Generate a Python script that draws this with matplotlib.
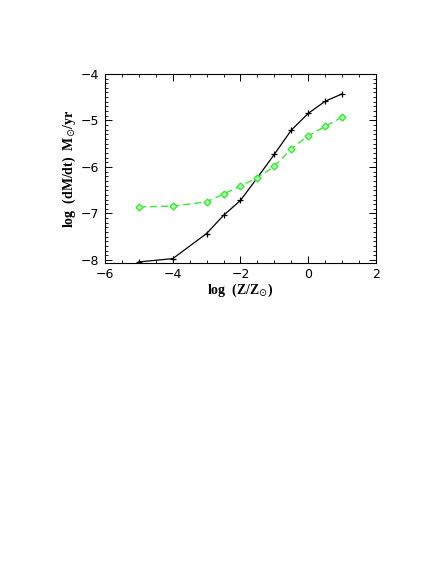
import numpy as np
import matplotlib
matplotlib.use("Agg")
import matplotlib.pyplot as plt
from matplotlib.ticker import MultipleLocator

# log metallicity grid and mass-loss rates
log_z = [-5, -4, -3, -2.5, -2, -1.5, -1, -0.5, 0, 0.5, 1]
mdot_black = [-8.04, -7.97, -7.43, -7.04, -6.72, -6.23, -5.73, -5.21, -4.85, -4.59, -4.43]
mdot_green = [-6.86, -6.84, -6.75, -6.58, -6.41, -6.23, -5.99, -5.61, -5.33, -5.13, -4.93]

fig = plt.figure(figsize=(4.36, 5.64), dpi=100)
ax = fig.add_axes([0.241, 0.534, 0.621, 0.335])

ax.plot(log_z, mdot_black, color='black', lw=0.9, marker='+', ms=5, mew=0.9)
ax.plot(log_z, mdot_green, color='#33ee33', lw=1.0, ls=(0, (5, 3)),
        marker='D', ms=3.5, mfc='#bbffbb', mec='#33ee33', mew=1.0)

ax.set_xlim(-6, 2)
ax.set_ylim(-8.06, -4)
ax.xaxis.set_major_locator(MultipleLocator(2))
ax.xaxis.set_minor_locator(MultipleLocator(0.5))
ax.yaxis.set_major_locator(MultipleLocator(1))
ax.yaxis.set_minor_locator(MultipleLocator(0.1))
ax.tick_params(which='both', direction='in', top=True, right=True, labelsize=9)
ax.tick_params(which='major', length=5, width=0.7, pad=4)
ax.tick_params(which='minor', length=2.5, width=0.6)
for s in ax.spines.values():
    s.set_linewidth(0.8)

for lab in ax.get_xticklabels() + ax.get_yticklabels():
    lab.set_family('DejaVu Sans')

ax.set_xlabel(r'log  (Z/Z$_{\odot}$)', family='Liberation Serif', weight='bold',
              fontsize=10, labelpad=0)
ax.set_ylabel(r'log  (dM/dt)  M$_{\odot}$/yr', family='Liberation Serif', weight='bold',
              fontsize=10, labelpad=2)

fig.savefig('out.png', dpi=100)
